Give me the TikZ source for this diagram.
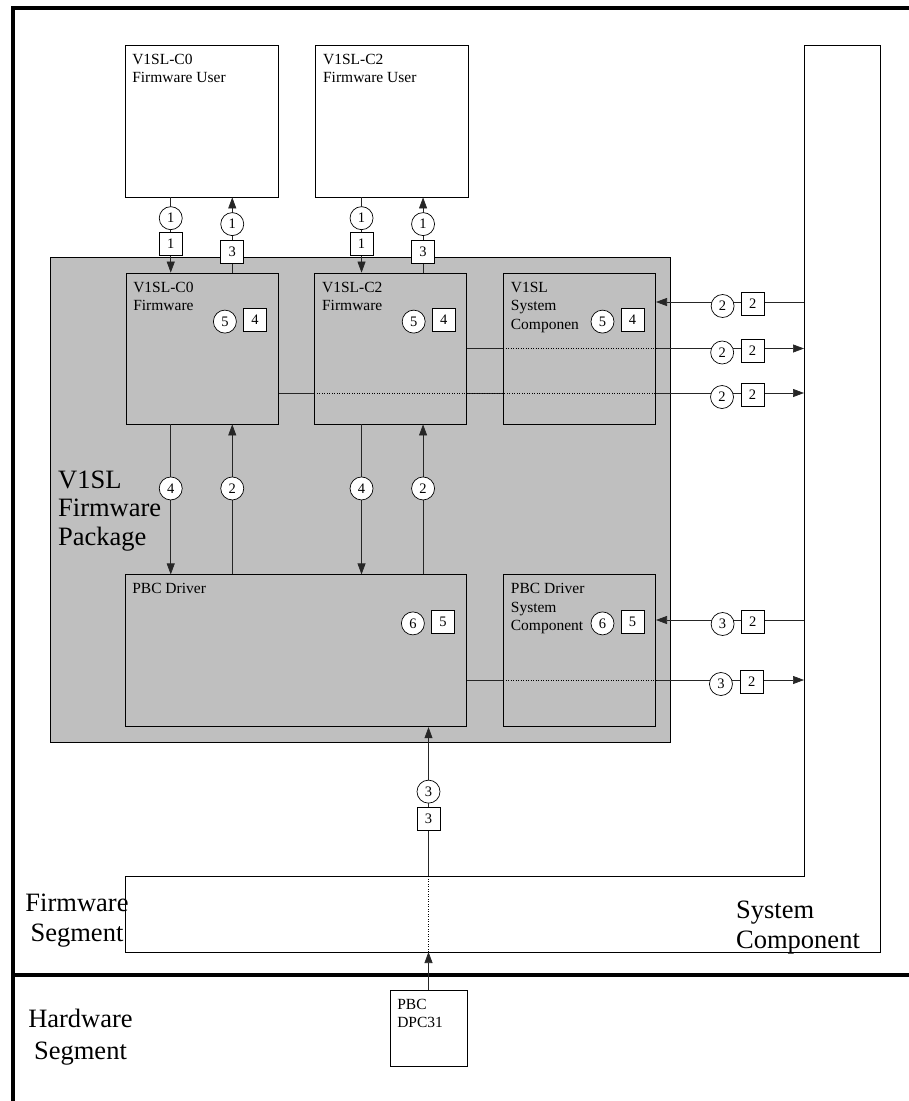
\documentclass[tikz,border=0pt]{standalone}
\usepackage{fontspec}
\setmainfont{Liberation Serif}
\usepackage{tikz}
\usetikzlibrary{arrows.meta, positioning, calc, backgrounds}
\tikzstyle{frame} = [line width=4pt, draw=black]
\tikzstyle{userbox} = [rectangle, draw=black, fill=white, line width=0.8pt, minimum width=153pt, minimum height=152pt, inner sep=0pt]
\tikzstyle{fwbox} = [rectangle, draw=black, fill=black!25, line width=0.8pt, minimum width=152pt, minimum height=151pt, inner sep=0pt]
\tikzstyle{pkgbox} = [rectangle, draw=black, fill=black!25, line width=0.8pt, minimum width=620pt, minimum height=485pt]
\tikzstyle{sysline} = [line width=0.8pt, draw=black]
\tikzstyle{boxtitle} = [anchor=north west, align=left, inner xsep=7.5pt, inner ysep=9pt, font=\fontsize{15.5}{18.5}\selectfont]
\tikzstyle{biglabel} = [inner sep=0pt, font=\fontsize{26.5}{30}\selectfont]
\tikzstyle{numcirc} = [circle, draw=black, fill=white, line width=0.7pt, minimum size=23pt, inner sep=0pt, font=\fontsize{14.5}{14.5}\selectfont]
\tikzstyle{numsq} = [rectangle, draw=black, fill=white, line width=0.7pt, minimum size=23pt, inner sep=0pt, font=\fontsize{14.5}{14.5}\selectfont]
\tikzstyle{hcirc} = [numcirc, yshift=-4pt]
\tikzstyle{hsq} = [numsq, yshift=-2pt]
\tikzstyle{arrow} = [-{Triangle[length=11pt, width=8pt]}, line width=0.7pt, draw=black!85]
\tikzstyle{wire} = [line width=0.7pt, draw=black!85]
\tikzstyle{hidden} = [line width=0.8pt, draw=black, dash pattern=on 1pt off 1.5pt]

\begin{document}
\begin{tikzpicture}[x=1pt, y=-1pt]
    \useasboundingbox (0,0) rectangle (909,1101);

    % Frame
    \draw[frame] (12,8) -- (909,8);
    \draw[frame] (13,6) -- (13,1101);
    \draw[frame] (13,975) -- (909,975);

    % Firmware users
    \node[userbox] (c0user) at (201.5,121) {};
    \node[userbox, right=37pt of c0user] (c2user) {};
    \node[boxtitle] (c0usertxt) at (c0user.north west) {V1SL-C0\\Firmware User};
    \node[boxtitle] (c2usertxt) at (c2user.north west) {V1SL-C2\\Firmware User};

    % Firmware package boxes
    \node[fwbox] (c0fw) at (202,348.5) {};
    \node[fwbox, right=36pt of c0fw] (c2fw) {};
    \node[fwbox, right=36pt of c2fw] (sysfw) {};
    \node[fwbox, minimum width=341pt, minimum height=152pt, below right=150pt and -1pt of c0fw.south west] (pbcdrv) {};
    \node[fwbox, minimum height=152pt] (pbcsys) at (sysfw |- pbcdrv) {};
    \node[boxtitle] (c0fwtxt) at (c0fw.north west) {V1SL-C0\\Firmware};
    \node[boxtitle] (c2fwtxt) at (c2fw.north west) {V1SL-C2\\Firmware};
    \node[boxtitle] (sysfwtxt) at (sysfw.north west) {V1SL\\System\\Componen};
    \node[boxtitle] (pbcdrvtxt) at (pbcdrv.north west) {PBC Driver};
    \node[boxtitle] (pbcsystxt) at (pbcsys.north west) {PBC Driver\\System\\Component};
    \foreach \b/\c/\s in {c0fw/5/4, c2fw/5/4, sysfw/5/4, pbcdrv/6/5, pbcsys/6/5} {
        \node[numcirc] (\b circ) at ($(\b.north east)+(-53.5,49)$) {\c};
        \node[numsq] (\b sq) at ($(\b.north east)+(-23.5,47)$) {\s};
    }

    % Hardware
    \node[userbox, minimum width=77pt, minimum height=76pt] (dpc) at (428.5,1028) {};
    \node[boxtitle] (dpctxt) at (dpc.north west) {PBC\\DPC31};

    % System component outline
    \draw[sysline] (804,45) -- (880,45) -- (880,952) -- (125,952) -- (125,876) -- (804,876) -- cycle;
    \coordinate (colin) at (804,45);
    \coordinate (segtop) at (125,876);
    \coordinate (segbot) at (125,952);

    % Labels
    \node[biglabel, anchor=west, align=left, font=\fontsize{26.5}{28.5}\selectfont] (pkglabel) at (58,511) {V1SL\\Firmware\\Package};
    \node[biglabel, align=center] (seglabel) at (77,921) {Firmware\\Segment};
    \node[biglabel, anchor=west, align=left] (syslabel) at (736,928) {System\\Component};
    \node[biglabel, align=center, font=\fontsize{26.5}{32}\selectfont] (hwlabel) at (80.5,1037) {Hardware\\Segment};

    % Package and long wires, behind the boxes
    \coordinate (la) at (804,302);
    \coordinate (lc) at (804,393);
    \coordinate (ld) at (804,620);
    \coordinate (le) at (804,680);
    \begin{scope}[on background layer]
        \node[pkgbox] (pkg) at (360,499.5) {};
        \draw[arrow] (la) -- (la -| sysfw.east) node[hcirc, pos=0.55] {2} node[hsq, pos=0.346] {2};
        \draw[arrow] (c2fw.east) -- (c2fw.east -| colin) node[hcirc, pos=0.757] {2} node[hsq, pos=0.847] {2};
        \draw[arrow] (lc -| c0fw.east) -- (lc) node[hcirc, pos=0.844] {2} node[hsq, pos=0.902] {2};
        \draw[arrow] (ld) -- (ld -| pbcsys.east) node[hcirc, pos=0.55] {3} node[hsq, pos=0.346] {2};
        \draw[arrow] (le -| pbcdrv.east) -- (le) node[hcirc, pos=0.754] {3} node[hsq, pos=0.845] {2};
    \end{scope}
    \draw[hidden] (lc -| c2fw.west) -- (lc -| sysfw.east);
    \draw[hidden] (sysfw.west |- c2fw.east) -- (sysfw.east |- c2fw.east);
    \draw[hidden] (le -| pbcsys.west) -- (le -| pbcsys.east);

    % Users <-> firmware <-> driver
    \foreach \k in {c0,c2} {
        \coordinate (\k dn) at ($(\k user.south west)!0.3!(\k user.south east)$);
        \coordinate (\k up) at ($(\k user.south west)!0.7!(\k user.south east)$);
        \draw[arrow] (\k dn) -- (\k dn |- \k fw.north) node[numcirc, pos=0.276] {1} node[numsq, pos=0.618] {1};
        \draw[arrow] (\k up |- \k fw.north) -- (\k up) node[numcirc, pos=0.645] {1} node[numsq, pos=0.276] {3};
        \draw[arrow] (\k dn |- \k fw.south) -- (\k dn |- pbcdrv.north) node[numcirc, pos=0.427] {4};
        \draw[arrow] (\k up |- pbcdrv.north) -- (\k up |- \k fw.south) node[numcirc, pos=0.573] {2};
    }

    % Hardware -> driver
    \draw[arrow] (dpc.north) -- (dpc.north |- segbot);
    \draw[hidden] (dpc.north |- segbot) -- (dpc.north |- segtop);
    \draw[arrow] (dpc.north |- segtop) -- (dpc.north |- pbcdrv.south) node[numcirc, pos=0.567] {3} node[numsq, pos=0.383] {3};
\end{tikzpicture}
\end{document}
